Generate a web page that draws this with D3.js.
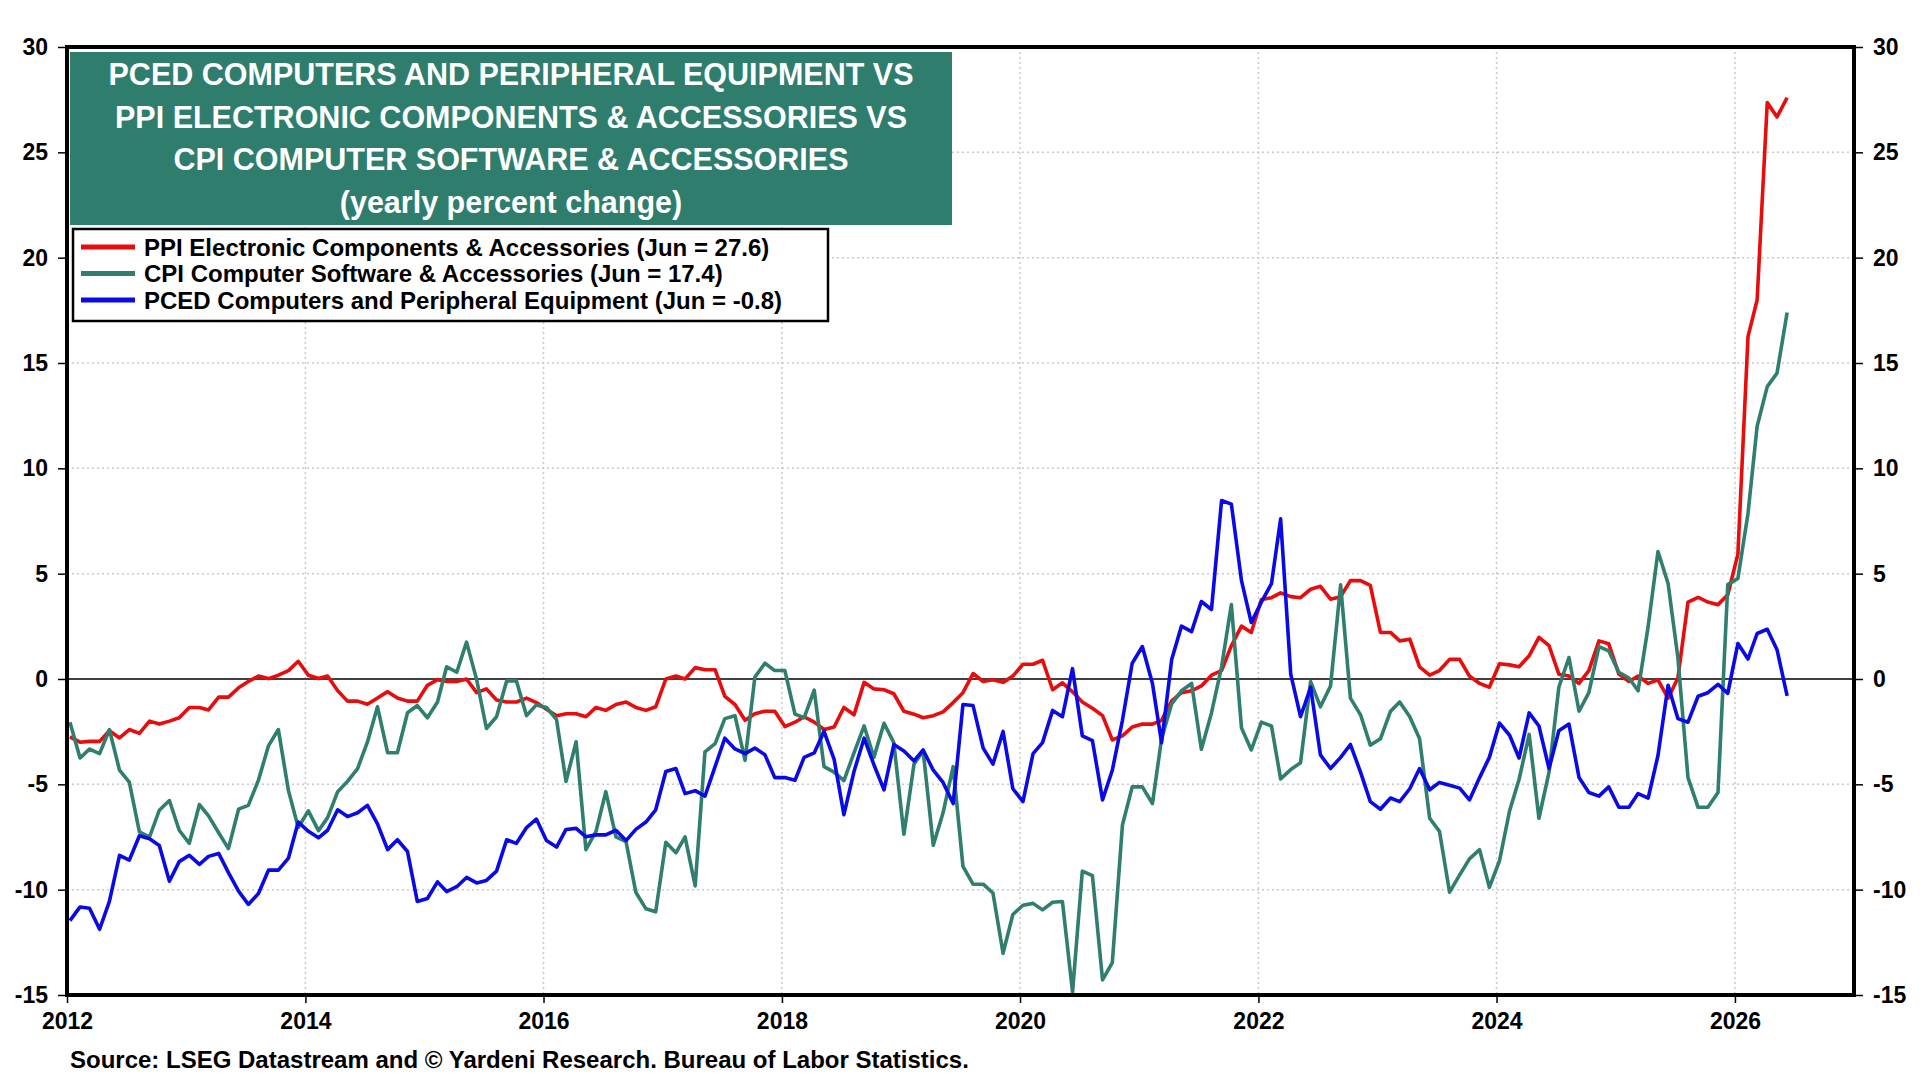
<!DOCTYPE html>
<html>
<head>
<meta charset="utf-8">
<script src="https://cdn.jsdelivr.net/npm/d3@7"></script>
<style>
  body { margin: 0; background: #fff; }
  svg text { font-family: "Liberation Sans", Arial, sans-serif; font-weight: bold; }
</style>
</head>
<body>
<svg id="chart" width="1920" height="1080"></svg>
<script>
//================= data (monthly, Jan 2012 - Jun 2026) ==================
var startYear = 2012;

// PPI Electronic Components & Accessories, yoy %
var ppi = [
  -2.75, -3.0, -2.96, -2.96, -2.46, -2.8, -2.4, -2.58, -2.0, -2.14, -2.0, -1.84,
  -1.35, -1.35, -1.47, -0.86, -0.86, -0.42, -0.12, 0.14, 0.02, 0.18, 0.4, 0.84,
  0.18, 0.02, 0.14, -0.56, -1.05, -1.05, -1.2, -0.9, -0.6, -0.9, -1.05, -1.05,
  -0.3, -0.03, -0.12, -0.12, 0.0, -0.65, -0.47, -1.0, -1.09, -1.09, -0.91, -1.12,
  -1.44, -1.74, -1.65, -1.65, -1.79, -1.35, -1.49, -1.21, -1.09, -1.35, -1.49, -1.32,
  0.0, 0.14, 0.0, 0.54, 0.44, 0.44, -0.82, -1.21, -1.96, -1.65, -1.53, -1.53,
  -2.26, -2.05, -1.79, -2.05, -2.4, -2.28, -1.35, -1.7, -0.16, -0.47, -0.51, -0.7,
  -1.53, -1.67, -1.84, -1.74, -1.56, -1.12, -0.65, 0.26, -0.12, -0.04, -0.16, 0.14,
  0.7, 0.7, 0.89, -0.51, -0.18, -0.61, -1.09, -1.39, -1.74, -2.89, -2.7, -2.28,
  -2.14, -2.14, -1.96, -1.04, -0.65, -0.56, -0.33, 0.18, 0.4, 1.58, 2.51, 2.21,
  3.77, 3.86, 4.09, 3.91, 3.86, 4.26, 4.4, 3.79, 3.91, 4.67, 4.67, 4.44,
  2.21, 2.21, 1.81, 1.89, 0.58, 0.18, 0.4, 0.93, 0.93, 0.14, -0.21, -0.39,
  0.72, 0.67, 0.58, 1.1, 1.98, 1.58, 0.23, 0.14, -0.21, 0.4, 1.81, 1.67,
  0.23, -0.12, 0.14, -0.21, -0.04, -0.91, 0.05, 3.65, 3.88, 3.65, 3.53, 4.0,
  5.93, 16.25, 17.99, 27.36, 26.68, 27.6
];

// CPI Computer Software & Accessories, yoy %
var cpi = [
  -2.05, -3.75, -3.33, -3.54, -2.4, -4.33, -4.9, -7.26, -7.5, -6.23, -5.77, -7.18,
  -7.8, -5.96, -6.5, -7.3, -8.05, -6.18, -6.0, -4.8, -3.16, -2.4, -5.3, -7.05,
  -6.26, -7.2, -6.58, -5.35, -4.86, -4.25, -3.0, -1.32, -3.5, -3.5, -1.6, -1.26,
  -1.84, -1.09, 0.58, 0.32, 1.75, -0.03, -2.35, -1.79, -0.09, -0.09, -1.74, -1.23,
  -1.35, -1.93, -4.86, -2.98, -8.1, -7.23, -5.35, -7.49, -7.72, -10.12, -10.91, -11.05,
  -7.75, -8.25, -7.49, -9.82, -3.46, -3.07, -1.88, -1.74, -3.86, 0.09, 0.75, 0.4,
  0.4, -1.67, -1.84, -0.53, -4.16, -4.42, -4.82, -3.51, -2.23, -3.72, -2.1, -3.02,
  -7.37, -4.04, -3.42, -7.89, -6.35, -4.16, -8.89, -9.74, -9.74, -10.16, -13.02, -11.18,
  -10.74, -10.65, -10.96, -10.6, -10.56, -14.86, -9.12, -9.33, -14.28, -13.46, -6.93, -5.12,
  -5.12, -5.91, -2.84, -1.18, -0.56, -0.21, -3.33, -1.61, 0.58, 3.53, -2.32, -3.37,
  -2.05, -2.23, -4.74, -4.3, -3.98, -0.12, -1.32, -0.33, 4.47, -0.91, -1.7, -3.14,
  -2.84, -1.53, -1.09, -1.79, -2.84, -6.61, -7.23, -10.12, -9.3, -8.54, -8.1, -9.89,
  -8.63, -6.26, -4.77, -2.63, -6.61, -4.42, -0.39, 1.02, -1.53, -0.65, 1.54, 1.33,
  0.32, 0.05, -0.56, 2.51, 6.05, 4.53, 1.02, -4.68, -6.09, -6.09, -5.39, 4.48,
  4.77, 7.86, 12.0, 13.88, 14.52, 17.4
];

// PCED Computers and Peripheral Equipment, yoy %
var pced = [
  -11.47, -10.82, -10.88, -11.88, -10.56, -8.37, -8.6, -7.44, -7.58, -7.9, -9.6, -8.67,
  -8.37, -8.8, -8.42, -8.28, -9.19, -10.07, -10.7, -10.18, -9.07, -9.07, -8.5, -6.79,
  -7.23, -7.54, -7.18, -6.21, -6.53, -6.35, -6.0, -6.88, -8.1, -7.63, -8.19, -10.56,
  -10.42, -9.63, -10.09, -9.86, -9.42, -9.68, -9.56, -9.12, -7.63, -7.8, -7.05, -6.65,
  -7.67, -7.98, -7.14, -7.09, -7.49, -7.4, -7.4, -7.18, -7.67, -7.14, -6.79, -6.21,
  -4.39, -4.25, -5.44, -5.3, -5.56, -4.16, -2.81, -3.32, -3.54, -3.28, -3.6, -4.68,
  -4.68, -4.81, -3.72, -3.51, -2.49, -3.81, -6.44, -4.39, -2.81, -4.07, -5.26, -3.11,
  -3.42, -3.89, -3.37, -4.33, -4.91, -5.91, -1.21, -1.26, -3.28, -4.04, -2.49, -5.21,
  -5.82, -3.54, -3.02, -1.49, -1.79, 0.49, -2.7, -2.93, -5.74, -4.33, -1.96, 0.75,
  1.54, -0.21, -3.02, 0.93, 2.51, 2.25, 3.68, 3.3, 8.47, 8.3, 4.67, 2.68,
  3.65, 4.53, 7.6, 0.23, -1.79, -0.39, -3.6, -4.25, -3.72, -3.11, -4.42, -5.82,
  -6.18, -5.65, -5.82, -5.21, -4.25, -5.26, -4.91, -5.04, -5.18, -5.74, -4.68, -3.72,
  -2.09, -2.67, -3.75, -1.61, -2.23, -4.25, -2.46, -2.14, -4.68, -5.39, -5.56, -5.12,
  -6.09, -6.09, -5.44, -5.65, -3.63, -0.3, -1.88, -2.05, -0.82, -0.65, -0.25, -0.68,
  1.68, 0.95, 2.16, 2.36, 1.39, -0.8
];

var yearTicks = [2012, 2014, 2016, 2018, 2020, 2022, 2024, 2026];
var yTicks = [-15, -10, -5, 0, 5, 10, 15, 20, 25, 30];
var titleLines = [
  "PCED COMPUTERS AND PERIPHERAL EQUIPMENT VS",
  "PPI ELECTRONIC COMPONENTS & ACCESSORIES VS",
  "CPI COMPUTER SOFTWARE & ACCESSORIES",
  "(yearly percent change)"
];
var seriesNames = [
  "PPI Electronic Components & Accessories (Jun = 27.6)",
  "CPI Computer Software & Accessories (Jun = 17.4)",
  "PCED Computers and Peripheral Equipment (Jun = -0.8)"
];
var source = "Source: LSEG Datastream and \u00a9 Yardeni Research. Bureau of Labor Statistics.";
//========================================================================

var RED = "#e80c0c", TEAL = "#2f7e6e", BLUE = "#0a0ae6";
var series = [
  {values: ppi, color: RED},
  {values: cpi, color: TEAL},
  {values: pced, color: BLUE}
];

// plot box (note: "top" is a read-only window global, so use other names)
var plotL = 67, plotR = 1854, plotT = 47, plotB = 995;
var svg = d3.select("#chart");

var months = ppi.map(function(d, i) { return new Date(startYear, i, 10); });

var x = d3.scaleTime()
  .domain([new Date(2012, 0, 1), new Date(2027, 0, 1)])
  .range([plotL, plotR]);
var y = d3.scaleLinear().domain([-15, 30]).range([plotB, plotT]);

// grid
var grid = svg.append("g").attr("stroke", "#c9c9c9").attr("stroke-width", 1.5)
  .attr("stroke-dasharray", "2,3");
yearTicks.slice(1).forEach(function(yr) {
  var gx = x(new Date(yr, 0, 1));
  grid.append("line").attr("x1", gx).attr("x2", gx).attr("y1", plotT).attr("y2", plotB);
});
yTicks.filter(function(v) { return v != 0 && v != -15 && v != 30; }).forEach(function(v) {
  grid.append("line").attr("x1", plotL).attr("x2", plotR).attr("y1", y(v)).attr("y2", y(v));
});

// zero line
svg.append("line").attr("x1", plotL).attr("x2", plotR)
  .attr("y1", y(0)).attr("y2", y(0))
  .attr("stroke", "#000").attr("stroke-width", 1.3);

// title box
svg.append("rect").attr("x", 70).attr("y", 52).attr("width", 882).attr("height", 173)
  .attr("fill", "#2e7d6d");
svg.append("g").selectAll("text").data(titleLines).enter().append("text")
  .attr("x", 511)
  .attr("y", function(d, i) { return 85 + i * 42.5; })
  .attr("text-anchor", "middle")
  .attr("fill", "#fff")
  .attr("font-size", 30.5)
  .text(function(d) { return d; });

// legend
svg.append("rect").attr("x", 73).attr("y", 229).attr("width", 755).attr("height", 92)
  .attr("fill", "#fff").attr("stroke", "#000").attr("stroke-width", 2.5);
var leg = svg.append("g").selectAll("g").data(seriesNames).enter().append("g")
  .attr("transform", function(d, i) { return "translate(0," + (247 + i * 26.5) + ")"; });
leg.append("line").attr("x1", 81).attr("x2", 135)
  .attr("stroke", function(d, i) { return series[i].color; })
  .attr("stroke-width", 5);
leg.append("text").attr("x", 144).attr("dy", "0.36em")
  .attr("font-size", 24).text(function(d) { return d; });

// lines
var line = d3.line()
  .x(function(d, i) { return x(months[i]); })
  .y(function(d) { return y(d); });
svg.append("g").selectAll("path").data(series).enter().append("path")
  .attr("d", function(s) { return line(s.values); })
  .attr("fill", "none")
  .attr("stroke", function(s) { return s.color; })
  .attr("stroke-width", 3.6)
  .attr("stroke-linejoin", "round");

// axes
var fmt = function(d) { return String(d); };
var minorY = d3.range(-15, 31);
var gl = svg.append("g").attr("transform", "translate(" + plotL + ",0)");
gl.call(d3.axisLeft(y).tickValues(minorY).tickSize(5).tickFormat(""));
gl.call(d3.axisLeft(y).tickValues(yTicks).tickSize(9).tickPadding(10).tickFormat(fmt));
var gr = svg.append("g").attr("transform", "translate(" + plotR + ",0)");
gr.call(d3.axisRight(y).tickValues(minorY).tickSize(5).tickFormat(""));
gr.call(d3.axisRight(y).tickValues(yTicks).tickSize(9).tickPadding(10).tickFormat(fmt));

var quarters = d3.timeMonth.every(3).range(new Date(2012, 0, 1), new Date(2027, 0, 2));
var gb = svg.append("g").attr("transform", "translate(0," + plotB + ")");
gb.call(d3.axisBottom(x).tickValues(quarters).tickSize(7).tickFormat(""));
gb.call(d3.axisBottom(x).tickValues(yearTicks.map(function(yr) { return new Date(yr, 0, 1); }))
  .tickSize(8).tickPadding(10).tickFormat(d3.timeFormat("%Y")));

svg.selectAll(".domain").remove();
svg.selectAll(".tick line").attr("stroke", "#000").attr("stroke-width", 1.5);
svg.selectAll(".tick text").attr("font-size", 23).attr("fill", "#000")
  .attr("font-family", "'Liberation Sans', Arial, sans-serif").attr("font-weight", "bold");

// frame
svg.append("rect").attr("x", plotL).attr("y", plotT)
  .attr("width", plotR - plotL).attr("height", plotB - plotT)
  .attr("fill", "none").attr("stroke", "#000").attr("stroke-width", 4);

// source
svg.append("text").attr("x", 70).attr("y", 1068).attr("font-size", 24).text(source);
</script>
</body>
</html>
